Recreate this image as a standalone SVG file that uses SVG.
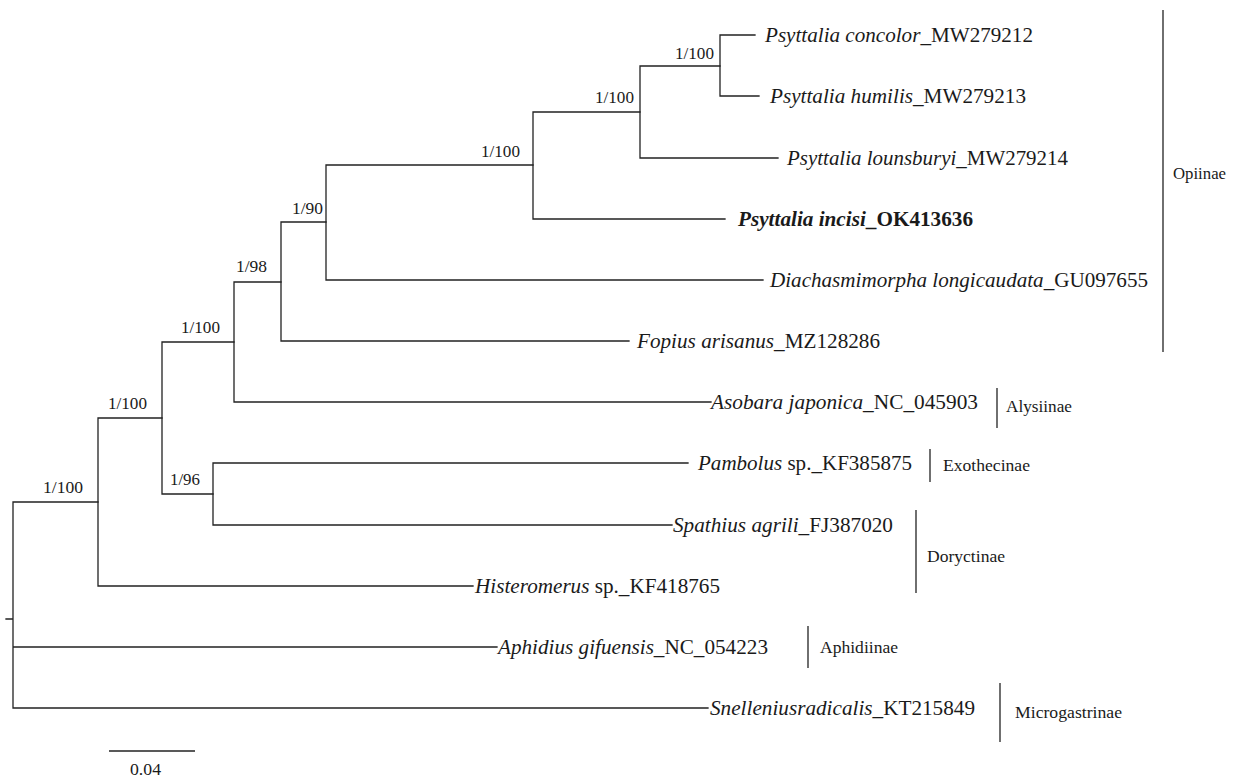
<svg xmlns="http://www.w3.org/2000/svg" width="1237" height="779" viewBox="0 0 1237 779">
<style>
.br{fill:none;stroke:#222;stroke-width:1.3;stroke-linecap:square}
.bar{fill:none;stroke:#222;stroke-width:1.3}
.tip{font-family:"Liberation Serif","Times New Roman",serif;font-size:21px;fill:#1a1a1a}
.it{font-style:italic}
.bold{font-weight:bold}
.sup{font-family:"Liberation Serif","Times New Roman",serif;font-size:17px;fill:#1a1a1a}
.fam{font-family:"Liberation Serif","Times New Roman",serif;font-size:17.5px;fill:#1a1a1a}
</style>
<rect width="1237" height="779" fill="#fff"/>
<g id="connectors">
<path class="br" d="M6,619 H13 M13,502 V708 M13,502 H98 M13,647 H497 M13,708 H708"/>
<path class="br" d="M98,418 V586 M98,418 H162 M98,586 H473"/>
<path class="br" d="M162,342 V494 M162,342 H234 M162,494 H213"/>
<path class="br" d="M213,463 V525 M213,463 H688 M213,525 H672"/>
<path class="br" d="M234,282 V402 M234,282 H281 M234,402 H711"/>
<path class="br" d="M281,222 V341 M281,222 H326 M281,341 H629"/>
<path class="br" d="M326,165 V280 M326,165 H533 M326,280 H763"/>
<path class="br" d="M533,112 V219 M533,112 H640 M533,219 H725"/>
<path class="br" d="M640,66 V158 M640,66 H720 M640,158 H778"/>
<path class="br" d="M720,35 V96 M720,35 H755 M720,96 H759"/>
</g>
<g id="support-values">
<text class="sup" x="675" y="59" textLength="39" lengthAdjust="spacingAndGlyphs">1/100</text>
<text class="sup" x="595" y="103" textLength="39" lengthAdjust="spacingAndGlyphs">1/100</text>
<text class="sup" x="481" y="157" textLength="39" lengthAdjust="spacingAndGlyphs">1/100</text>
<text class="sup" x="292" y="214" textLength="31" lengthAdjust="spacingAndGlyphs">1/90</text>
<text class="sup" x="236" y="272" textLength="31" lengthAdjust="spacingAndGlyphs">1/98</text>
<text class="sup" x="181" y="333" textLength="39" lengthAdjust="spacingAndGlyphs">1/100</text>
<text class="sup" x="170" y="485" textLength="30" lengthAdjust="spacingAndGlyphs">1/96</text>
<text class="sup" x="108" y="409" textLength="39" lengthAdjust="spacingAndGlyphs">1/100</text>
<text class="sup" x="43" y="493" textLength="40" lengthAdjust="spacingAndGlyphs">1/100</text>
</g>
<g id="tip-concolor"><text class="tip" x="765" y="42" textLength="268" lengthAdjust="spacingAndGlyphs"><tspan class="it">Psyttalia concolor</tspan>_MW279212</text></g>
<g id="tip-humilis"><text class="tip" x="770" y="103" textLength="256" lengthAdjust="spacingAndGlyphs"><tspan class="it">Psyttalia humilis</tspan>_MW279213</text></g>
<g id="tip-lounsburyi"><text class="tip" x="787" y="165" textLength="281" lengthAdjust="spacingAndGlyphs"><tspan class="it">Psyttalia lounsburyi</tspan>_MW279214</text></g>
<g id="tip-incisi"><text class="tip bold" x="738" y="226" textLength="235" lengthAdjust="spacingAndGlyphs"><tspan class="it">Psyttalia incisi</tspan>_OK413636</text></g>
<g id="tip-diachasmimorpha"><text class="tip" x="770" y="287" textLength="378" lengthAdjust="spacingAndGlyphs"><tspan class="it">Diachasmimorpha longicaudata</tspan>_GU097655</text></g>
<g id="tip-fopius"><text class="tip" x="637" y="348" textLength="243" lengthAdjust="spacingAndGlyphs"><tspan class="it">Fopius arisanus</tspan>_MZ128286</text></g>
<g id="tip-asobara"><text class="tip" x="711" y="409" textLength="267" lengthAdjust="spacingAndGlyphs"><tspan class="it">Asobara japonica</tspan>_NC_045903</text></g>
<g id="tip-pambolus"><text class="tip" x="698" y="470" textLength="214" lengthAdjust="spacingAndGlyphs"><tspan class="it">Pambolus</tspan> sp._KF385875</text></g>
<g id="tip-spathius"><text class="tip" x="673" y="532" textLength="220" lengthAdjust="spacingAndGlyphs"><tspan class="it">Spathius agrili</tspan>_FJ387020</text></g>
<g id="tip-histeromerus"><text class="tip" x="475" y="593" textLength="245" lengthAdjust="spacingAndGlyphs"><tspan class="it">Histeromerus</tspan> sp._KF418765</text></g>
<g id="tip-aphidius"><text class="tip" x="498" y="654" textLength="270" lengthAdjust="spacingAndGlyphs"><tspan class="it">Aphidius gifuensis</tspan>_NC_054223</text></g>
<g id="tip-snellenius"><text class="tip" x="710" y="715" textLength="265" lengthAdjust="spacingAndGlyphs"><tspan class="it">Snelleniusradicalis</tspan>_KT215849</text></g>
<g id="clade-opiinae"><line class="bar" x1="1163" y1="10" x2="1163" y2="352"/><text class="fam" x="1173" y="179" textLength="53" lengthAdjust="spacingAndGlyphs">Opiinae</text></g>
<g id="clade-alysiinae"><line class="bar" x1="997" y1="388" x2="997" y2="428"/><text class="fam" x="1006" y="412" textLength="66" lengthAdjust="spacingAndGlyphs">Alysiinae</text></g>
<g id="clade-exothecinae"><line class="bar" x1="930" y1="449" x2="930" y2="482"/><text class="fam" x="943" y="471" textLength="87" lengthAdjust="spacingAndGlyphs">Exothecinae</text></g>
<g id="clade-doryctinae"><line class="bar" x1="916" y1="510" x2="916" y2="593"/><text class="fam" x="927" y="562" textLength="78" lengthAdjust="spacingAndGlyphs">Doryctinae</text></g>
<g id="clade-aphidiinae"><line class="bar" x1="808" y1="626" x2="808" y2="668"/><text class="fam" x="820" y="653" textLength="78" lengthAdjust="spacingAndGlyphs">Aphidiinae</text></g>
<g id="clade-microgastrinae"><line class="bar" x1="1000" y1="683" x2="1000" y2="742"/><text class="fam" x="1015" y="718" textLength="107" lengthAdjust="spacingAndGlyphs">Microgastrinae</text></g>
<g id="scale-bar"><line class="bar" x1="109" y1="751" x2="195" y2="751"/><text class="sup" x="130" y="775" textLength="31" lengthAdjust="spacingAndGlyphs">0.04</text></g>
</svg>
